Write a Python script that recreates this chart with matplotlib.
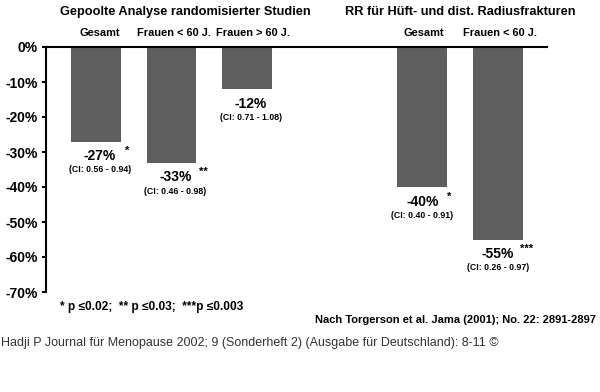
import matplotlib
matplotlib.use("Agg")
import matplotlib.pyplot as plt

plt.rcParams['font.family'] = ['Liberation Sans', 'DejaVu Sans']

categories = ["Gesamt", "Frauen < 60 J.", "Frauen > 60 J.", "Gesamt", "Frauen < 60 J."]
values = [-27, -33, -12, -40, -55]
value_labels = ["-27%", "-33%", "-12%", "-40%", "-55%"]
stars = ["*", "**", "", "*", "***"]
ci_labels = ["(CI: 0.56 - 0.94)", "(CI: 0.46 - 0.98)", "(CI: 0.71 - 1.08)",
             "(CI: 0.40 - 0.91)", "(CI: 0.26 - 0.97)"]
group_titles = ["Gepoolte Analyse randomisierter Studien", "RR für Hüft- und dist. Radiusfrakturen"]
yticks = [0, -10, -20, -30, -40, -50, -60, -70]
ytick_labels = ["0%", "-10%", "-20%", "-30%", "-40%", "-50%", "-60%", "-70%"]

positions = [0, 1, 2, 4.32, 5.32]

W, H = 600, 392
fig = plt.figure(figsize=(6, 3.92), dpi=100)
ax = fig.add_axes([46 / W, 1 - 292 / H, (547 - 46) / W, (292 - 47) / H])

bar_color = "#5e5e5e"
ax.bar(positions, values, width=0.66, color=bar_color, zorder=2)
ax.set_xlim(-0.662, 5.97)
ax.set_ylim(-70, 0)

ax.spines['bottom'].set_visible(False)
ax.spines['right'].set_visible(False)
ax.spines['top'].set_linewidth(1.5)
ax.spines['left'].set_linewidth(1.5)
ax.spines['top'].set_zorder(3)
ax.set_xticks([])
ax.set_yticks(yticks)
ax.set_yticklabels(ytick_labels, fontsize=10, fontweight='bold')
ax.tick_params(axis='y', direction='out', length=3, width=1.5, pad=3)

px = 0.72  # points per pixel

for i, (x, v, vl, st, ci) in enumerate(zip(positions, values, value_labels, stars, ci_labels)):
    dx = 4 if i < 3 else 0
    ax.annotate(vl, (x, v), xytext=(dx * px, -14.5 * px), textcoords='offset points',
                ha='center', va='center', fontsize=10, fontweight='bold')
    if st:
        ax.annotate(st, (x, v), xytext=((dx + 26 + len(st)) * px, -9.5 * px),
                    textcoords='offset points',
                    ha='center', va='center', fontsize=8, fontweight='bold')
    ax.annotate(ci, (x, v), xytext=(dx * px, -28.5 * px), textcoords='offset points',
                ha='center', va='center', fontsize=6.3, fontweight='bold')

cat_nudge = [4, 2, 6, 1, 2]
for x, c, nd in zip(positions, categories, cat_nudge):
    ax.annotate(c, (x, 0), xytext=(nd * px, 13.5 * px), textcoords='offset points',
                ha='center', va='center', fontsize=7.9, fontweight='bold')

fig.text(185 / W, 1 - 12 / H, group_titles[0], ha='center', va='center',
         fontsize=9.2, fontweight='bold')
fig.text(460 / W, 1 - 12 / H, group_titles[1], ha='center', va='center',
         fontsize=9.2, fontweight='bold')

fig.text(60 / W, 1 - 307 / H, "* p \u22640.02;  ** p \u22640.03;  ***p \u22640.003",
         ha='left', va='center', fontsize=8.6, fontweight='bold')
fig.text(596 / W, 1 - 320 / H, "Nach Torgerson et al. Jama (2001); No. 22: 2891-2897",
         ha='right', va='center', fontsize=8, fontweight='bold')
fig.text(1 / W, 1 - 343 / H,
         "Hadji P Journal für Menopause 2002; 9 (Sonderheft 2) (Ausgabe für Deutschland): 8-11 \u00a9",
         ha='left', va='center', fontsize=9, color='#333333')

fig.savefig("out.png", dpi=100)
